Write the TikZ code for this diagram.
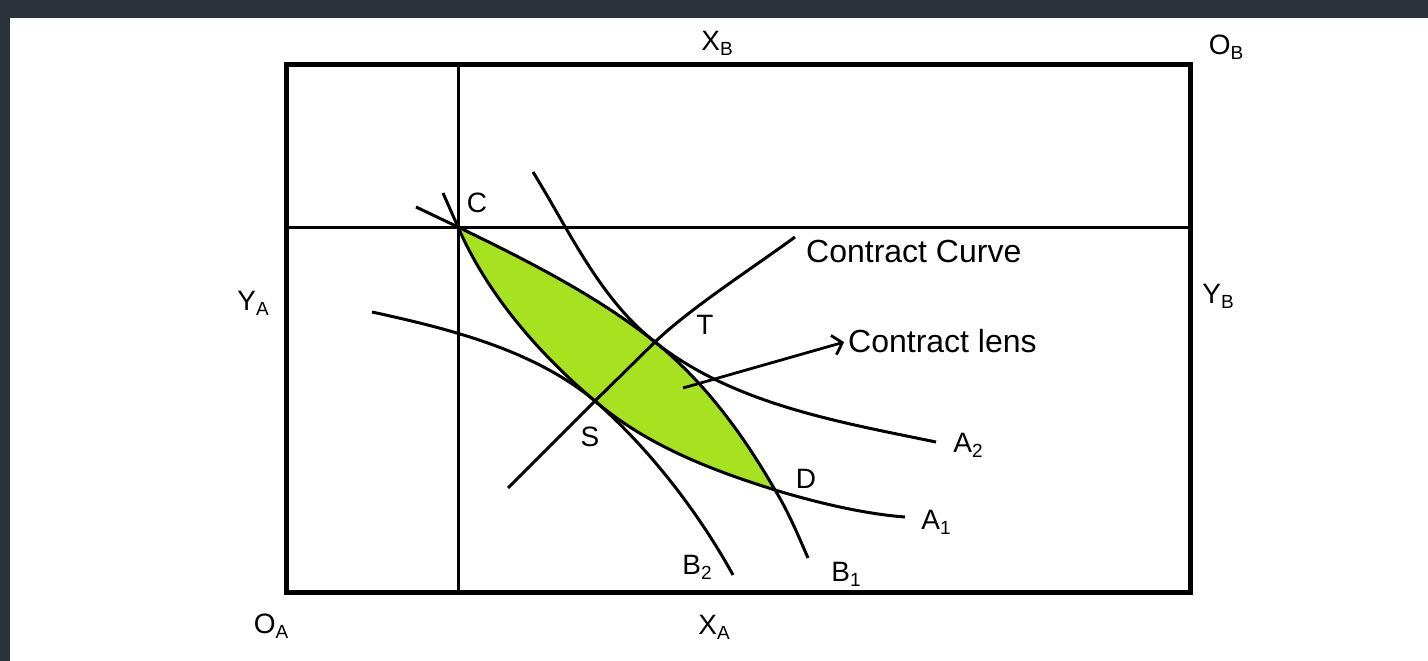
\documentclass[tikz,border=0pt]{standalone}
\usepackage{fontspec}
\setmainfont{Liberation Sans}
\usetikzlibrary{arrows.meta}
\definecolor{lensgreen}{RGB}{166,226,31}
\definecolor{edgegray}{RGB}{43,50,60}
\newcommand{\lowsub}[1]{\raisebox{-0.35ex}{\fontsize{19}{20}\selectfont #1}}

\begin{document}
\begin{tikzpicture}[x=1pt, y=-1pt,
    frame/.style={line width=5pt},
    gridline/.style={line width=3pt},
    curve/.style={line width=3pt},
    lbl/.style={inner sep=0pt, font=\fontsize{28}{32}\selectfont},
    big/.style={inner sep=0pt, font=\fontsize{32}{36}\selectfont},
    arrow/.style={-{Straight Barb[length=9pt,width=20pt]}, line width=2.8pt}
]
% screen edge
\fill[edgegray] (0,0) rectangle (1428,661);
\fill[white] (10,18) rectangle (1428,661);
\useasboundingbox (0,0) rectangle (1428,661);

% key points
\coordinate (C) at (458,227);
\coordinate (T) at (655,342);
\coordinate (S) at (595,401);
\coordinate (D) at (775,490);
\coordinate (lensin) at (683,388);

% lens
\fill[lensgreen] (C) .. controls (526,260) and (596,295) .. (T)
    .. controls (705,382) and (744,436) .. (D)
    .. controls (711,470) and (646,445) .. (S)
    .. controls (539,354) and (487,294) .. (C) -- cycle;

% box
\draw[gridline] (458,65) -- (458,592);
\draw[gridline] (286,227) -- (1190,227);
\draw[frame] (286,65) rectangle (1190,592);

% indifference curves
\draw[curve] (416,207) -- (C) .. controls (526,260) and (596,295) .. (T)
    .. controls (705,382) and (744,436) .. (D)
    .. controls (788,511) and (798,535) .. (808,558);
\draw[curve] (443,193) -- (C) .. controls (487,294) and (539,354) .. (S)
    .. controls (646,445) and (711,470) .. (D)
    .. controls (818,503) and (865,514) .. (905,517);
\draw[curve] (533,172) .. controls (570,232) and (600,299) .. (T)
    .. controls (733,404) and (839,422) .. (936,442);
\draw[curve] (372,312) .. controls (450,329) and (534,350) .. (S)
    .. controls (651,450) and (700,515) .. (733,575);

% contract curve
\draw[curve] (508,488) -- (S) -- (T) .. controls (689,309) and (757,265) .. (795,237);

% labels
\node[lbl] (xb) at (717,43) {X\lowsub{B}};
\node[lbl] (ob) at (1226,47) {O\lowsub{B}};
\node[lbl] (ya) at (253,303) {Y\lowsub{A}};
\node[lbl] (yb) at (1218,296) {Y\lowsub{B}};
\node[lbl] (oa) at (271,626) {O\lowsub{A}};
\node[lbl] (xa) at (714,627) {X\lowsub{A}};
\node[lbl] (lc) at (477,203) {C};
\node[lbl] (lt) at (705,325) {T};
\node[lbl] (ls) at (590,437) {S};
\node[lbl] (ld) at (806,479) {D};
\node[lbl] (la2) at (968,445) {A\lowsub{2}};
\node[lbl] (la1) at (936,522) {A\lowsub{1}};
\node[lbl] (lb2) at (697,567) {B\lowsub{2}};
\node[lbl] (lb1) at (846,574) {B\lowsub{1}};
\node[big, anchor=west] (cc) at (806,251) {Contract Curve};
\node[big, anchor=west] (lens) at (848,341) {Contract lens};

\draw[arrow, shorten >=4pt] (lensin) -- (lens.west);
\end{tikzpicture}
\end{document}
